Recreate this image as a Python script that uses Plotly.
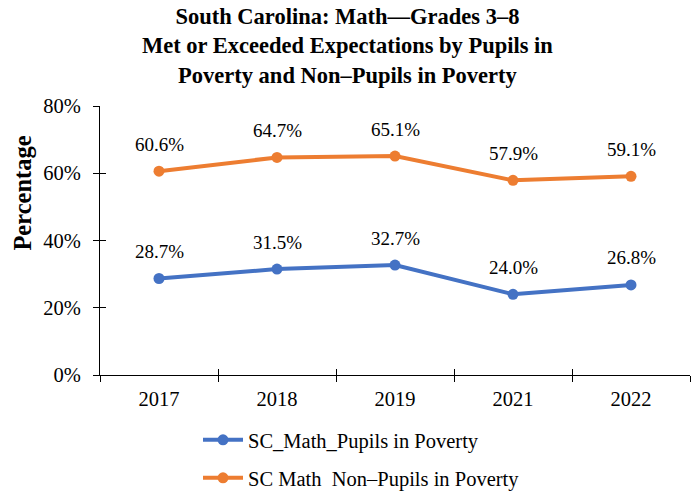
import plotly.graph_objects as go

years = ["2017", "2018", "2019", "2021", "2022"]
pupils_in_poverty = [28.7, 31.5, 32.7, 24.0, 26.8]
non_pupils_in_poverty = [60.6, 64.7, 65.1, 57.9, 59.1]
y_ticks = [0, 20, 40, 60, 80]
y_tick_labels = ["0%", "20%", "40%", "60%", "80%"]

BLUE = "#4472C4"
ORANGE = "#ED7D31"
FONT = "Liberation Serif, Times New Roman, serif"

fig = go.Figure()

fig.add_trace(go.Scatter(
    x=years, y=pupils_in_poverty, mode="lines+markers",
    name="SC_Math_Pupils in Poverty",
    line=dict(color=BLUE, width=4), marker=dict(color=BLUE, size=11),
    legend="legend", hoverinfo="skip",
))
fig.add_trace(go.Scatter(
    x=years, y=non_pupils_in_poverty, mode="lines+markers",
    name="SC Math  Non–Pupils in Poverty",
    line=dict(color=ORANGE, width=4), marker=dict(color=ORANGE, size=11),
    legend="legend2", hoverinfo="skip",
))
# invisible trace that activates the overlay axes carrying the inner tick halves
fig.add_trace(go.Scatter(
    x=years, y=[None] * len(years), xaxis="x2", yaxis="y2",
    showlegend=False, hoverinfo="skip", mode="lines",
))

# value labels above each point (x given as category index)
for series in (pupils_in_poverty, non_pupils_in_poverty):
    for i, v in enumerate(series):
        fig.add_annotation(
            x=i, y=v, xref="x", yref="y", text=f"{v:.1f}%", showarrow=False,
            yshift=27, font=dict(family=FONT, size=19, color="#000000"),
        )

# chart title
fig.add_annotation(
    text="<b>South Carolina: Math—Grades 3–8<br>Met or Exceeded Expectations by Pupils in<br>Poverty and Non–Pupils in Poverty</b>",
    xref="paper", yref="paper", x=0.419, y=1, xanchor="center", yanchor="bottom",
    yshift=16, showarrow=False, align="center",
    font=dict(family=FONT, size=22.5, color="#000000"),
)

# y-axis title
fig.add_annotation(
    text="<b>Percentage</b>", xref="paper", yref="paper",
    x=-0.131, y=0.677, xanchor="center", yanchor="middle", textangle=-90,
    showarrow=False, font=dict(family=FONT, size=24.5, color="#000000"),
)

tick_common = dict(showgrid=False, zeroline=False, tickcolor="#000000",
                   ticklen=6, tickwidth=1)

fig.update_layout(
    width=695, height=491,
    margin=dict(l=100, r=5, t=106, b=116, autoexpand=False),
    paper_bgcolor="white", plot_bgcolor="white",
    font=dict(family=FONT, color="#000000"),
    xaxis=dict(
        type="category", categoryorder="array", categoryarray=years,
        range=[-0.5, 4.5], tickson="boundaries", ticks="outside",
        showline=True, linecolor="#000000", linewidth=1, tickangle=0,
        tickfont=dict(family=FONT, size=20.5), ticklabelstandoff=5,
        **tick_common,
    ),
    xaxis2=dict(
        type="category", categoryorder="array", categoryarray=years,
        range=[-0.5, 4.5], overlaying="x", anchor="y", side="bottom",
        tickson="boundaries", ticks="inside", showticklabels=False,
        showline=False, **tick_common,
    ),
    yaxis=dict(
        range=[0, 80], tickvals=y_ticks, ticktext=y_tick_labels,
        ticks="outside", showline=True, linecolor="#000000", linewidth=1,
        tickfont=dict(family=FONT, size=20.5), ticklabelstandoff=8,
        **tick_common,
    ),
    yaxis2=dict(
        range=[0, 80], tickvals=y_ticks, overlaying="y", anchor="x",
        side="left", ticks="inside", showticklabels=False, showline=False,
        **tick_common,
    ),
    legend=dict(
        x=198 / 695, y=1 - 440 / 491, xref="container", yref="container",
        xanchor="left", yanchor="middle", bgcolor="rgba(0,0,0,0)",
        font=dict(family=FONT, size=20.5), itemwidth=40,
    ),
    legend2=dict(
        x=198 / 695, y=1 - 478 / 491, xref="container", yref="container",
        xanchor="left", yanchor="middle", bgcolor="rgba(0,0,0,0)",
        font=dict(family=FONT, size=20.5), itemwidth=40,
    ),
    showlegend=True,
)

fig.write_html("out.html")
